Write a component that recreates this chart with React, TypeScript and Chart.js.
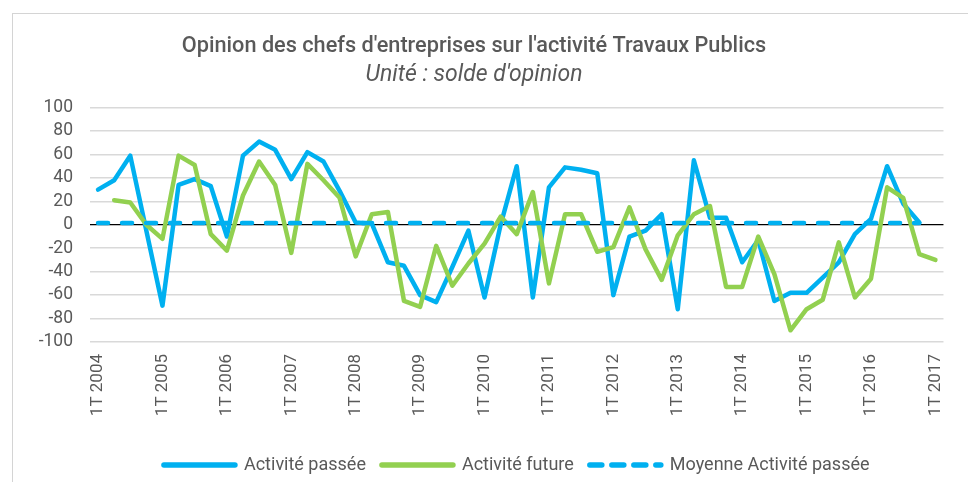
import React, { useEffect, useRef } from "react";
import { Chart, registerables } from "chart.js";

Chart.register(...registerables);

const categories = [
  "1T 2004", "2T 2004", "3T 2004", "4T 2004",
  "1T 2005", "2T 2005", "3T 2005", "4T 2005",
  "1T 2006", "2T 2006", "3T 2006", "4T 2006",
  "1T 2007", "2T 2007", "3T 2007", "4T 2007",
  "1T 2008", "2T 2008", "3T 2008", "4T 2008",
  "1T 2009", "2T 2009", "3T 2009", "4T 2009",
  "1T 2010", "2T 2010", "3T 2010", "4T 2010",
  "1T 2011", "2T 2011", "3T 2011", "4T 2011",
  "1T 2012", "2T 2012", "3T 2012", "4T 2012",
  "1T 2013", "2T 2013", "3T 2013", "4T 2013",
  "1T 2014", "2T 2014", "3T 2014", "4T 2014",
  "1T 2015", "2T 2015", "3T 2015", "4T 2015",
  "1T 2016", "2T 2016", "3T 2016", "4T 2016",
  "1T 2017",
];

const activitePassee = [
  30, 38, 59, -5,
  -69, 34, 39, 33,
  -10, 59, 71, 64,
  39, 62, 54, 29,
  2, 1, -32, -35,
  -60, -66, -36, -5,
  -62, 0, 50, -62,
  32, 49, 47, 44,
  -60, -10, -5, 9,
  -72, 55, 6, 6,
  -32, -13, -65, -58,
  -58, -45, -32, -8,
  5, 50, 18, 2,
  null,
];

const activiteFuture = [
  null, 21, 19, 0,
  -12, 59, 51, -8,
  -22, 25, 54, 34,
  -24, 52, 38, 23,
  -27, 9, 11, -65,
  -70, -18, -52, -33,
  -16, 7, -8, 28,
  -50, 9, 9, -23,
  -19, 15, -21, -47,
  -9, 9, 16, -53,
  -53, -10, -42, -90,
  -72, -64, -15, -62,
  -46, 32, 23, -25,
  -30,
];

const moyennePassee = [
  1.6, 1.6, 1.6, 1.6, 1.6, 1.6, 1.6, 1.6, 1.6, 1.6, 1.6, 1.6, 1.6,
  1.6, 1.6, 1.6, 1.6, 1.6, 1.6, 1.6, 1.6, 1.6, 1.6, 1.6, 1.6, 1.6,
  1.6, 1.6, 1.6, 1.6, 1.6, 1.6, 1.6, 1.6, 1.6, 1.6, 1.6, 1.6, 1.6,
  1.6, 1.6, 1.6, 1.6, 1.6, 1.6, 1.6, 1.6, 1.6, 1.6, 1.6, 1.6, 1.6,
  null,
];

const seriesNames = ["Activité passée", "Activité future", "Moyenne Activité passée"];
const yMin = -100;
const yMax = 100;
const yStep = 20;

const TEXT = "#595959";
const BLUE = "#00B0F0";
const GREEN = "#92D050";

export default function App() {
  const ref = useRef<HTMLCanvasElement>(null);

  useEffect(() => {
    const chart = new Chart(ref.current!, {
      type: "line",
      data: {
        labels: categories,
        datasets: [
          {
            label: seriesNames[0],
            data: activitePassee,
            borderColor: BLUE,
            backgroundColor: BLUE,
            borderWidth: 4.5,
            pointRadius: 0,
            borderJoinStyle: "round",
            borderCapStyle: "round",
            tension: 0,
            order: 3,
          },
          {
            label: seriesNames[1],
            data: activiteFuture,
            borderColor: GREEN,
            backgroundColor: GREEN,
            borderWidth: 4.5,
            pointRadius: 0,
            borderJoinStyle: "round",
            borderCapStyle: "round",
            tension: 0,
            order: 2,
          },
          {
            label: seriesNames[2],
            data: moyennePassee,
            borderColor: BLUE,
            backgroundColor: BLUE,
            borderWidth: 4.5,
            borderDash: [10, 14],
            pointRadius: 0,
            borderCapStyle: "round",
            tension: 0,
            order: 1,
          },
        ],
      },
      options: {
        responsive: false,
        animation: false,
        devicePixelRatio: 1,
        layout: { padding: { left: 0, right: 20, top: 0, bottom: 0 } },
        plugins: {
          tooltip: { enabled: false },
          title: {
            display: true,
            text: "Opinion des chefs d'entreprises sur l'activité Travaux Publics",
            color: TEXT,
            font: { family: "Roboto", size: 21.7, weight: "500", lineHeight: 1 },
            padding: { top: 36.2, bottom: 0 },
          },
          subtitle: {
            display: true,
            text: "Unité : solde d'opinion",
            color: TEXT,
            font: { family: "Roboto", size: 23, style: "italic", weight: "normal", lineHeight: 0.9 },
            padding: { top: 7, bottom: 22 },
          },
          legend: {
            position: "bottom",
            fullSize: false,
            labels: {
              usePointStyle: true,
              pointStyle: "line",
              pointStyleWidth: 71,
              color: TEXT,
              font: { family: "Roboto", size: 18 },
              padding: 16,
              sort: (a: any, b: any) => a.datasetIndex - b.datasetIndex,
              generateLabels: (c: any) =>
                (Chart.defaults.plugins.legend.labels.generateLabels as any)(c).map((l: any) => ({
                  ...l,
                  lineWidth: 5.5,
                  lineCap: "round",
                  lineDash: l.datasetIndex === 2 ? [12, 10] : [],
                })),
            },
          },
        },
        scales: {
          x: {
            offset: true,
            grid: { display: false, drawTicks: false },
            border: { display: false },
            ticks: {
              autoSkip: false,
              minRotation: 90,
              maxRotation: 90,
              padding: 12,
              color: TEXT,
              font: { family: "Roboto", size: 17 },
              callback: (_v: any, i: number) => (i % 4 === 0 ? categories[i] : ""),
            },
            afterFit: (s: any) => {
              s.height = 98;
            },
          },
          y: {
            min: yMin,
            max: yMax,
            ticks: {
              stepSize: yStep,
              autoSkip: false,
              color: TEXT,
              font: { family: "Roboto", size: 17.5 },
              padding: 17,
            },
            grid: {
              drawTicks: false,
              color: (c: any) => (c.tick && c.tick.value === 0 ? "#000000" : "#d9d9d9"),
              lineWidth: (c: any) => (c.tick && c.tick.value === 0 ? 1.2 : 1.5),
            },
            border: { display: false },
            afterFit: (s: any) => {
              s.width = 90;
            },
          },
        },
      },
    } as any);
    return () => chart.destroy();
  }, []);

  return (
    <div
      style={{
        position: "fixed",
        left: 0,
        top: 0,
        width: 968,
        height: 482,
        overflow: "hidden",
        background: "#ffffff",
      }}
    >
      <div
        style={{
          position: "absolute",
          left: 12,
          top: 13,
          width: 2000,
          height: 2000,
          border: "1px solid #d4d4d4",
        }}
      />
      <canvas
        ref={ref}
        width={968}
        height={484}
        style={{ position: "absolute", left: 0, top: 0, width: 968, height: 484 }}
      />
    </div>
  );
}
